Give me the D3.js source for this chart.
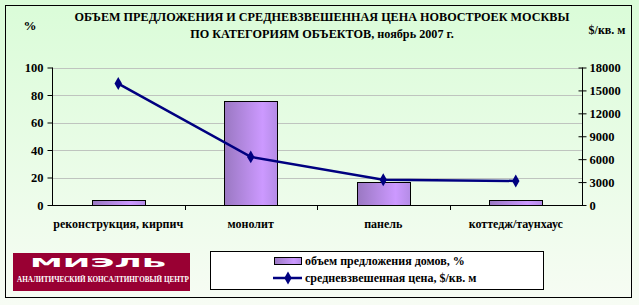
<!DOCTYPE html>
<html>
<head>
<meta charset="utf-8">
<script src="https://cdn.jsdelivr.net/npm/d3@7"></script>
<style>
  html, body { margin: 0; padding: 0; background: #fff; }
  svg { display: block; }
  text { font-family: "Liberation Serif", "Times New Roman", serif; font-weight: bold; fill: #000; }
</style>
</head>
<body>
<svg id="chart" width="639" height="305"></svg>
<script>
(function(){
    'use strict';

    // chart values
    var categories = ['реконструкция, кирпич', 'монолит', 'панель', 'коттедж/таунхаус'];
    var supplyShare = [3.5, 76, 17, 3.5];            // объем предложения домов, %
    var avgPrice = [15900, 6300, 3300, 3150];        // средневзвешенная цена, $/кв. м
    var leftTicks = [0, 20, 40, 60, 80, 100];
    var rightTicks = [0, 3000, 6000, 9000, 12000, 15000, 18000];
    var titleLines = ['ОБЪЕМ ПРЕДЛОЖЕНИЯ И СРЕДНЕВЗВЕШЕННАЯ ЦЕНА НОВОСТРОЕК МОСКВЫ',
                      'ПО КАТЕГОРИЯМ ОБЪЕКТОВ, ноябрь 2007 г.'];
    var legendLabels = ['объем предложения домов, %', 'средневзвешенная цена, $/кв. м'];

    var width = 639, height = 305;
    var plot = {left: 52, right: 582, top: 67.5, bottom: 205};

    var svg = d3.select('#chart');
    var defs = svg.append('defs');

    var bg = defs.append('linearGradient').attr('id', 'bgGrad')
        .attr('x1', 0).attr('y1', 0).attr('x2', 0).attr('y2', 1);
    bg.append('stop').attr('offset', '0%').attr('stop-color', '#dafcd8');
    bg.append('stop').attr('offset', '100%').attr('stop-color', '#f7fcf4');

    var barGrad = defs.append('linearGradient').attr('id', 'barGrad')
        .attr('x1', 0).attr('y1', 0).attr('x2', 1).attr('y2', 0);
    barGrad.append('stop').attr('offset', '0%').attr('stop-color', '#9a78c2');
    barGrad.append('stop').attr('offset', '72%').attr('stop-color', '#cc99ff');
    barGrad.append('stop').attr('offset', '100%').attr('stop-color', '#b48ce6');

    svg.append('rect').attr('width', width).attr('height', height).attr('fill', 'url(#bgGrad)');
    svg.append('rect').attr('x', 5.5).attr('y', 5.5).attr('width', 626).attr('height', 292)
        .attr('fill', 'none').attr('stroke', '#000').attr('stroke-width', 1);

    // title
    svg.selectAll('.title').data(titleLines).enter().append('text')
        .attr('class', 'title')
        .attr('x', 322).attr('y', function(d, i) { return 21 + i * 17; })
        .attr('text-anchor', 'middle')
        .style('font-size', '12.2px')
        .text(function(d) { return d; });

    svg.append('text').attr('x', 30).attr('y', 30).attr('text-anchor', 'middle')
        .style('font-size', '13px').text('%');
    svg.append('text').attr('x', 607).attr('y', 34).attr('text-anchor', 'middle')
        .style('font-size', '12px').text('$/кв. м');

    var x = d3.scaleBand().domain(categories).range([plot.left, plot.right]);
    var yL = d3.scaleLinear().domain([0, 100]).range([plot.bottom, plot.top]);
    var yR = d3.scaleLinear().domain([0, 18000]).range([plot.bottom, plot.top]);

    // gridlines
    svg.append('g').selectAll('line').data(leftTicks.filter(function(d) { return d > 0; }))
        .enter().append('line')
        .attr('x1', plot.left).attr('x2', plot.right)
        .attr('y1', function(d) { return Math.round(yL(d)) + 0.5; })
        .attr('y2', function(d) { return Math.round(yL(d)) + 0.5; })
        .attr('stroke', '#bfc4bf').attr('stroke-width', 1);

    // bars
    var barW = x.bandwidth() * 0.4;
    svg.append('g').selectAll('rect').data(supplyShare).enter().append('rect')
        .attr('x', function(d, i) { return Math.round(x(categories[i]) + (x.bandwidth() - barW) / 2) + 0.5; })
        .attr('y', function(d) { return Math.round(yL(d)) + 0.5; })
        .attr('width', Math.round(barW))
        .attr('height', function(d) { return Math.round(yL(0)) - Math.round(yL(d)); })
        .attr('fill', 'url(#barGrad)').attr('stroke', '#000').attr('stroke-width', 1);

    // axes
    var fmt = d3.format('d');
    var axisL = d3.axisLeft(yL).tickValues(leftTicks).tickFormat(fmt).tickSize(5).tickPadding(4);
    var gL = svg.append('g').attr('transform', 'translate(' + (plot.left + 0.5) + ',0)').call(axisL);
    var axisR = d3.axisRight(yR).tickValues(rightTicks).tickFormat(fmt).tickSize(4).tickPadding(3);
    var gR = svg.append('g').attr('transform', 'translate(' + (plot.right + 0.5) + ',0)').call(axisR);
    gR.selectAll('.tick line').attr('x1', -4);
    var axisX = d3.axisBottom(x).tickSize(0).tickPadding(14);
    var gX = svg.append('g').attr('transform', 'translate(0,' + (plot.bottom + 0.5) + ')').call(axisX);

    [gL, gR, gX].forEach(function(g) {
        g.attr('font-family', '"Liberation Serif", serif').attr('font-size', 12);
        g.select('.domain').attr('stroke', '#000');
        g.selectAll('.tick line').attr('stroke', '#000');
        g.selectAll('text').style('font-family', '"Liberation Serif", serif')
            .style('font-weight', 'bold').style('font-size', '12.5px').attr('fill', '#000');
    });
    gX.selectAll('text').style('font-size', '12px');
    gL.select('.domain').attr('d', 'M0,' + plot.top + 'V' + (plot.bottom + 0.5));
    gR.select('.domain').attr('d', 'M0,' + plot.top + 'V' + (plot.bottom + 0.5));
    gX.select('.domain').attr('d', 'M' + plot.left + ',0H' + plot.right);

    // category separator ticks on x axis
    svg.append('g').selectAll('line').data(categories.slice(1)).enter().append('line')
        .attr('x1', function(d) { return Math.round(x(d)) + 0.5; })
        .attr('x2', function(d) { return Math.round(x(d)) + 0.5; })
        .attr('y1', plot.bottom).attr('y2', plot.bottom + 5)
        .attr('stroke', '#000');

    // price line
    var line = d3.line()
        .x(function(d, i) { return x(categories[i]) + x.bandwidth() / 2; })
        .y(function(d) { return yR(d); });
    svg.append('path').datum(avgPrice).attr('d', line)
        .attr('fill', 'none').attr('stroke', '#000080').attr('stroke-width', 2.5);

    var diamond = d3.symbol().type(d3.symbolDiamond).size(48);
    svg.append('g').selectAll('path').data(avgPrice).enter().append('path')
        .attr('d', diamond)
        .attr('transform', function(d, i) {
            return 'translate(' + (x(categories[i]) + x.bandwidth() / 2) + ',' + yR(d) + ')';
        })
        .attr('fill', '#000080');

    // logo
    var logo = svg.append('g');
    logo.append('rect').attr('x', 13).attr('y', 253).attr('width', 177).attr('height', 38)
        .attr('fill', '#990033');
    logo.append('text').attr('x', 30).attr('y', 267)
        .attr('textLength', 137).attr('lengthAdjust', 'spacingAndGlyphs')
        .style('font-family', '"DejaVu Sans", sans-serif').style('font-size', '13px')
        .style('font-weight', 'bold').style('fill', '#fff').text('МИЭЛЬ');
    logo.append('text').attr('x', 17).attr('y', 282)
        .attr('textLength', 172).attr('lengthAdjust', 'spacingAndGlyphs')
        .style('font-size', '7.5px').style('fill', '#fff')
        .text('АНАЛИТИЧЕСКИЙ КОНСАЛТИНГОВЫЙ ЦЕНТР');

    // legend
    var lg = svg.append('g');
    lg.append('rect').attr('x', 210.5).attr('y', 251.5).attr('width', 333).attr('height', 38)
        .attr('fill', '#fff').attr('stroke', '#000');
    lg.append('rect').attr('x', 274.5).attr('y', 257.5).attr('width', 27).attr('height', 7)
        .attr('fill', 'url(#barGrad)').attr('stroke', '#000');
    lg.append('line').attr('x1', 273).attr('x2', 302).attr('y1', 278).attr('y2', 278)
        .attr('stroke', '#000080').attr('stroke-width', 2.5);
    lg.append('path').attr('d', diamond).attr('transform', 'translate(288,278)').attr('fill', '#000080');
    lg.selectAll('.lgtext').data(legendLabels).enter().append('text')
        .attr('x', 305).attr('y', function(d, i) { return 265 + i * 17; })
        .style('font-size', '12px')
        .text(function(d) { return d; });
})();
</script>
</body>
</html>
